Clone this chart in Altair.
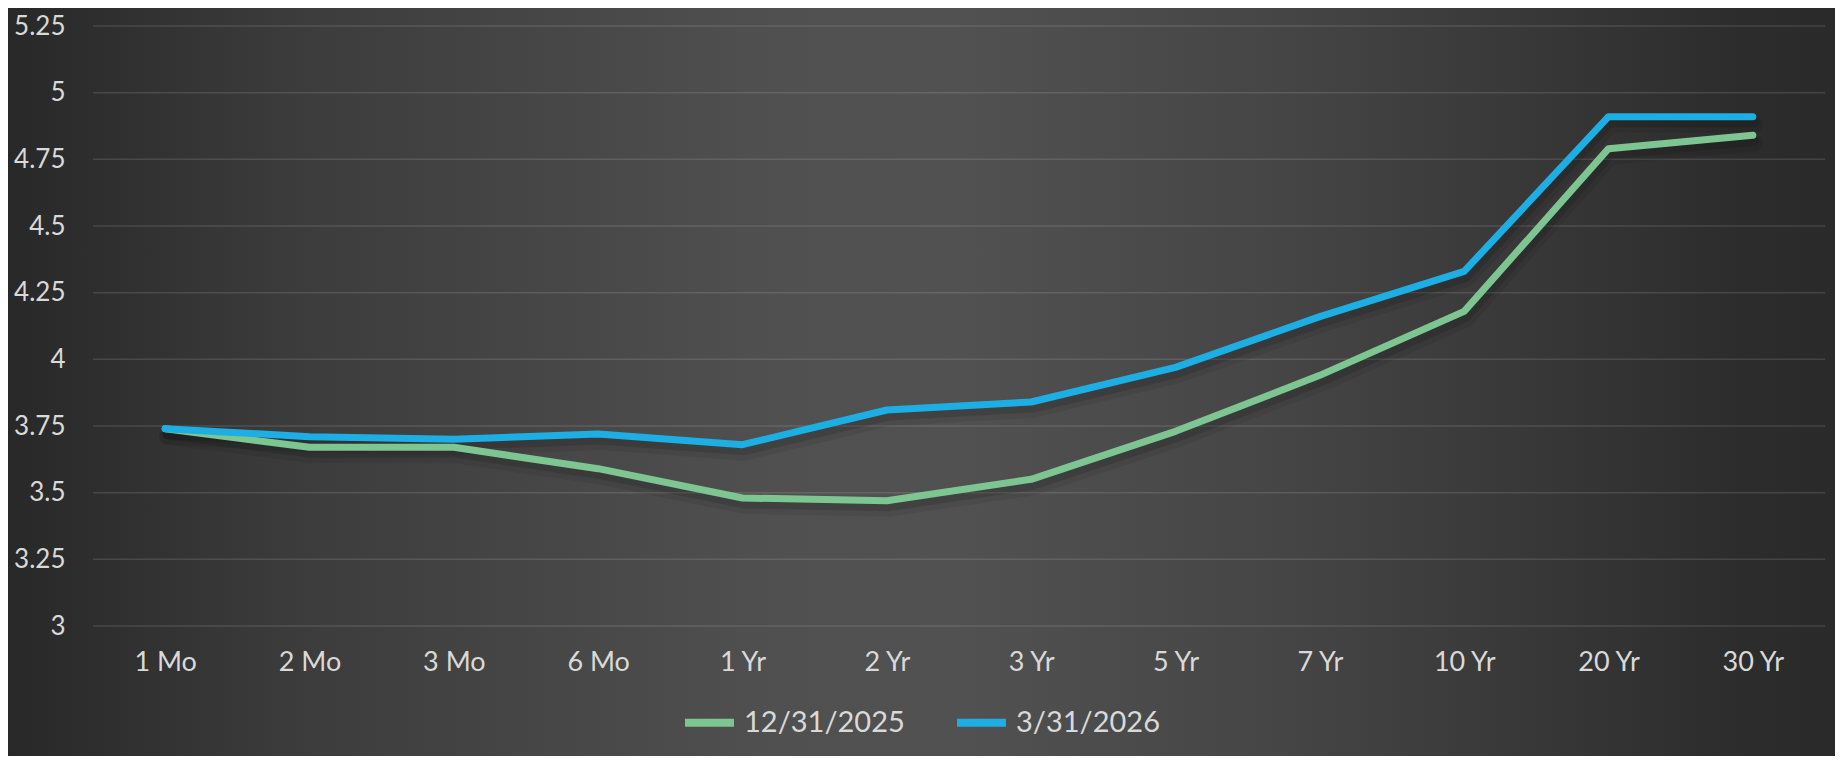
import altair as alt
import pandas as pd

tenors = ["1 Mo", "2 Mo", "3 Mo", "6 Mo", "1 Yr", "2 Yr", "3 Yr", "5 Yr", "7 Yr", "10 Yr", "20 Yr", "30 Yr"]
series_names = ["12/31/2025", "3/31/2026"]
dec_2025 = [3.74, 3.67, 3.67, 3.59, 3.48, 3.47, 3.55, 3.73, 3.94, 4.18, 4.79, 4.84]
mar_2026 = [3.74, 3.71, 3.70, 3.72, 3.68, 3.81, 3.84, 3.97, 4.16, 4.33, 4.91, 4.91]
y_ticks = [3, 3.25, 3.5, 3.75, 4, 4.25, 4.5, 4.75, 5, 5.25]
colors = ["#7DC692", "#1DAEE4"]

rows = []
for name, vals in zip(series_names, [dec_2025, mar_2026]):
    for t, v in zip(tenors, vals):
        rows.append({"tenor": t, "yield": v, "series": name})
df = pd.DataFrame(rows)
grid_df = pd.DataFrame({"yield": y_ticks})

W, H = 1732, 600
PAD = {"left": 85, "top": 18, "right": 10, "bottom": 130}
FONT = "Lato"
TXT = "#D9D9D9"

bg = alt.Chart(pd.DataFrame([{"k": 0}])).mark_rect(
    clip=False,
    color=alt.LinearGradient(
        gradient="linear", x1=0, y1=0, x2=1, y2=0,
        stops=[
            alt.GradientStop(color="#282828", offset=0),
            alt.GradientStop(color="#3c3c3c", offset=0.16),
            alt.GradientStop(color="#505050", offset=0.42),
            alt.GradientStop(color="#515151", offset=0.52),
            alt.GradientStop(color="#454545", offset=0.70),
            alt.GradientStop(color="#2c2c2c", offset=0.95),
            alt.GradientStop(color="#2a2a2a", offset=1),
        ],
    ),
).encode(
    x=alt.value(-PAD["left"]), x2=alt.value(W + PAD["right"]),
    y=alt.value(-PAD["top"]), y2=alt.value(H + PAD["bottom"]),
)

x_enc = alt.X("tenor:N", sort=tenors, scale=alt.Scale(type="point", padding=0.5),
              axis=alt.Axis(title=None, labelAngle=0, domain=False, ticks=False, tickSize=0,
                            labelPadding=23, labelFontSize=27, labelColor=TXT, labelFont=FONT,
                            grid=False, zindex=1))
y_scale = alt.Scale(domain=[3, 5.25], nice=False, zero=False)
y_enc = alt.Y("yield:Q", scale=y_scale,
              axis=alt.Axis(title=None, values=y_ticks, format=".2~f", domain=False, ticks=False,
                            tickSize=0, labelPadding=28, labelFontSize=26, labelColor=TXT,
                            labelFont=FONT, grid=False, zindex=1))

grid = alt.Chart(grid_df).mark_rule(color="#ffffff", opacity=0.12, strokeWidth=1.5).encode(
    y=y_enc,
    x=alt.value(0), x2=alt.value(W),
)

base = alt.Chart(df)

shadow1 = base.mark_line(strokeWidth=16, color="#000000", opacity=0.07, xOffset=2, yOffset=8,
                         strokeCap="round", strokeJoin="round").encode(
    x=x_enc, y=y_enc, detail="series:N")
shadow2 = base.mark_line(strokeWidth=9, color="#000000", opacity=0.12, xOffset=2, yOffset=6,
                         strokeCap="round", strokeJoin="round").encode(
    x=x_enc, y=y_enc, detail="series:N")

lines = base.mark_line(strokeWidth=7, strokeCap="round", strokeJoin="round").encode(
    x=x_enc, y=y_enc,
    color=alt.Color("series:N", sort=series_names,
                    scale=alt.Scale(domain=series_names, range=colors),
                    legend=alt.Legend(title=None, orient="none", direction="horizontal",
                                      legendX=588, legendY=668, symbolType="stroke",
                                      symbolSize=2400, symbolStrokeWidth=8,
                                      labelFontSize=29, labelColor=TXT, labelFont=FONT,
                                      labelLimit=400, labelOffset=6, columnPadding=36,
                                      zindex=1)),
)

chart = alt.layer(bg, grid, shadow1, shadow2, lines).properties(
    width=W, height=H,
    autosize=alt.AutoSizeParams(type="none"),
    padding=PAD,
    background="#2e2e2e",
).configure_view(stroke=None)

chart.save("out.html", embed_options={"renderer": "svg", "actions": False})
